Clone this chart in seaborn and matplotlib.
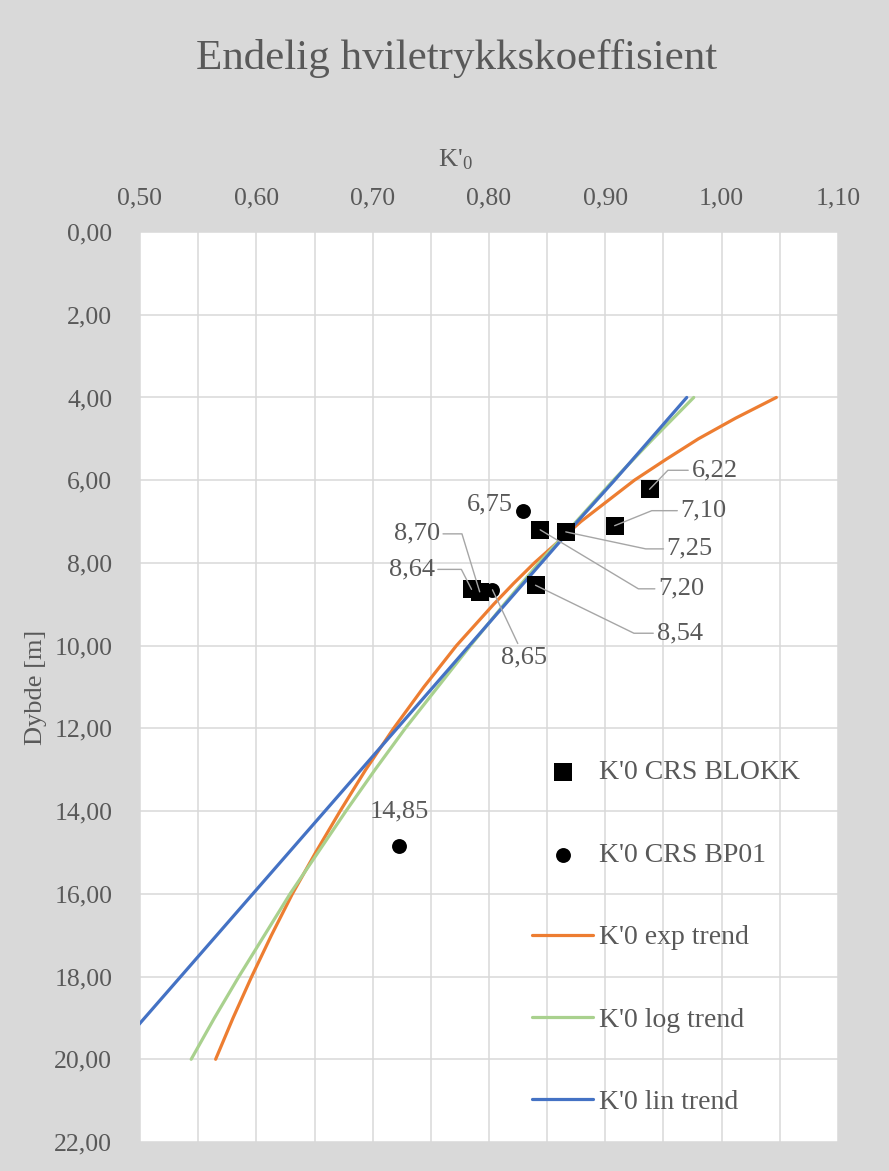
import matplotlib
matplotlib.use("Agg")
import matplotlib.pyplot as plt
import matplotlib.ticker as mticker
import seaborn as sns

# K'0 from the CRS tests (depth in m)
blokk_depth = [6.22, 7.10, 7.25, 7.20, 8.54, 8.64, 8.70]
blokk_k = [0.938, 0.908, 0.866, 0.844, 0.840, 0.785, 0.792]
bp01_depth = [6.75, 8.65, 14.85]
bp01_k = [0.829, 0.803, 0.723]

# trend lines (exp is read tighter where it bends most)
exp_depth = [4, 4.5, 5, 5.5, 6, 6.5, 7, 7.5, 8, 8.5, 9, 9.5, 10,
             11, 12, 13, 14, 15, 16, 17, 18, 19, 20]
exp_trend = [1.047, 1.012, 0.980, 0.952, 0.925, 0.902, 0.879, 0.859, 0.839,
             0.821, 0.804, 0.788, 0.772, 0.744, 0.718, 0.694, 0.672, 0.651,
             0.631, 0.613, 0.596, 0.580, 0.565]
trend_depth = [4, 5, 6, 7, 8, 9, 10, 11, 12, 13, 14, 15, 16, 17, 18, 19, 20]
log_trend = [0.976, 0.941, 0.907, 0.875, 0.843, 0.813, 0.784, 0.756, 0.728,
             0.702, 0.677, 0.653, 0.629, 0.607, 0.585, 0.564, 0.544]
lin_trend = [0.970, 0.939, 0.908, 0.876, 0.845, 0.814, 0.783, 0.752, 0.721,
             0.690, 0.659, 0.628, 0.597, 0.566, 0.535, 0.504, 0.473]

x_ticks = [0.50, 0.60, 0.70, 0.80, 0.90, 1.00, 1.10]
y_ticks = [0, 2, 4, 6, 8, 10, 12, 14, 16, 18, 20, 22]

# data label placement: pixel offset (dx, dy) and leader angle
blokk_label_pos = [(65, 19, 46), (89, 15, 22), (124, -17, -12), (141, -59, -31),
                   (144, -48, -26), (-60, 20, 117), (-63, 58, 107)]
bp01_label_pos = [(-33, 7, None), (32, -68, "straight"), (0, 35, None)]

TXT = "#595959"
GRID = "#d9d9d9"

sns.set_style("white")
plt.rcParams["font.family"] = ["Liberation Serif", "DejaVu Serif"]
plt.rcParams["mathtext.default"] = "regular"

fig = plt.figure(figsize=(8.89, 11.71), dpi=100, facecolor="#d9d9d9")
ax = fig.add_axes([140 / 889, 29 / 1171, 698 / 889, 910 / 1171])
ax.set_facecolor("white")

sns.lineplot(x=exp_trend, y=exp_depth, sort=False, estimator=None, ax=ax,
             color="#ED7D31", lw=2.3, label="K'0 exp trend", zorder=2)
sns.lineplot(x=log_trend, y=trend_depth, sort=False, estimator=None, ax=ax,
             color="#A9D18E", lw=2.3, label="K'0 log trend", zorder=2)
sns.lineplot(x=lin_trend, y=trend_depth, sort=False, estimator=None, ax=ax,
             color="#4472C4", lw=2.3, label="K'0 lin trend", zorder=2)
sns.scatterplot(x=blokk_k, y=blokk_depth, ax=ax, marker="s", color="black",
                s=150, linewidth=0, label="K'0 CRS BLOKK", zorder=4)
sns.scatterplot(x=bp01_k, y=bp01_depth, ax=ax, marker="o", color="black",
                s=115, linewidth=0, label="K'0 CRS BP01", zorder=4)


def add_label(k, d, dx, dy, ang):
    txt = f"{d:.2f}".replace(".", ",")
    kw = dict(xytext=(dx, dy), textcoords="offset pixels", ha="center",
              va="center", fontsize=19, color=TXT, zorder=5)
    if ang is not None:
        cs = "arc3" if ang == "straight" else f"angle,angleA=0,angleB={ang},rad=0"
        kw["arrowprops"] = dict(arrowstyle="-", color="#a6a6a6", lw=1.0,
                                shrinkA=0, shrinkB=0, connectionstyle=cs)
    ax.annotate(txt, (k, d), **kw)


for k, d, (dx, dy, ang) in zip(blokk_k, blokk_depth, blokk_label_pos):
    add_label(k, d, dx, dy, ang)
for k, d, (dx, dy, ang) in zip(bp01_k, bp01_depth, bp01_label_pos):
    add_label(k, d, dx, dy, ang)

ax.set_xlim(0.5, 1.1)
ax.set_ylim(22, 0)
ax.set_xticks(x_ticks)
ax.set_yticks(y_ticks)
ax.xaxis.set_minor_locator(mticker.MultipleLocator(0.05))
fmt = mticker.FuncFormatter(lambda v, p: f"{v:.2f}".replace(".", ","))
ax.xaxis.set_major_formatter(fmt)
ax.yaxis.set_major_formatter(fmt)
ax.xaxis.tick_top()
ax.xaxis.set_label_position("top")
ax.tick_params(axis="both", which="both", length=0, labelsize=18.5,
               labelcolor=TXT)
ax.tick_params(axis="x", pad=16)
ax.tick_params(axis="y", pad=20)
ax.grid(True, axis="x", which="both", color=GRID, lw=1.1)
ax.grid(True, axis="y", which="major", color=GRID, lw=1.1)
ax.set_axisbelow(True)
for sp in ax.spines.values():
    sp.set_visible(False)

ax.set_xlabel("K'$_0$", fontsize=19, color=TXT, va="center")
ax.xaxis.set_label_coords((455 - 140) / 698, (1171 - 160 - 29) / 910)
ax.set_ylabel("Dybde [m]", fontsize=19, color=TXT, labelpad=5)

fig.text(457 / 889, 1 - 58 / 1171, "Endelig hviletrykkskoeffisient",
         ha="center", va="center", fontsize=31, color=TXT)

h, l = ax.get_legend_handles_labels()
order = [3, 4, 0, 1, 2]
ax.legend([h[i] for i in order], [l[i] for i in order], frameon=False,
          loc="upper left", bbox_to_anchor=(532 / 889, 1 - 760 / 1171),
          bbox_transform=fig.transFigure, fontsize=20, labelcolor=TXT,
          borderpad=0, borderaxespad=0, handlelength=2.2, handletextpad=0.2,
          labelspacing=2.05, markerscale=1.0)

fig.savefig("out.png", dpi=100, facecolor=fig.get_facecolor())
